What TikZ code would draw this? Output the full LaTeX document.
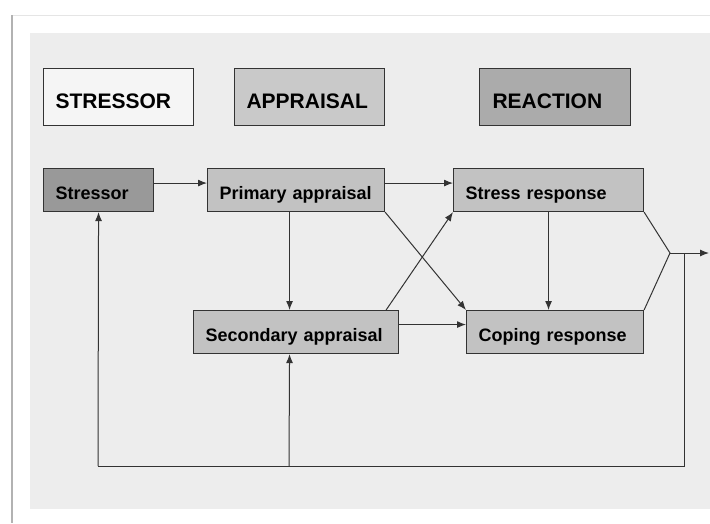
\documentclass[tikz,border=0pt]{standalone}
\usepackage{fontspec}
\setmainfont{Liberation Sans}
\usetikzlibrary{arrows.meta}
\definecolor{panel}{HTML}{EDEDED}
\definecolor{edge}{HTML}{333333}
\begin{document}
\begin{tikzpicture}[x=1pt,y=-1pt,
  box/.style={draw=edge,line width=1.1pt,anchor=north west,inner xsep=12pt,inner ysep=0pt,
    align=left,text height=19pt,text depth=0pt,font=\bfseries\fontsize{18}{20}\selectfont},
  hbox/.style={draw=edge,line width=1.1pt,anchor=north west,inner xsep=12pt,inner ysep=0pt,
    align=left,text height=23pt,text depth=0pt,font=\bfseries\fontsize{21}{23}\selectfont},
  arr/.style={draw=edge,line width=1pt,-{Latex[length=9pt,width=7pt]}},
  ln/.style={draw=edge,line width=1pt}]
\useasboundingbox (0,0) rectangle (710,523);
\fill[white] (0,0) rectangle (710,523);
\draw[line width=0.6pt,black!10] (12,15) -- (710,15);
\fill[panel] (30,33) rectangle (710,509);
\draw[line width=1.4pt,black!30] (12,15) -- (12,523);
% header boxes
\node[hbox,fill=black!4,text width=126pt,minimum height=57pt] (hs) at (43,68) {STRESSOR};
\node[hbox,fill=black!21,text width=126pt,minimum height=57pt] (ha) at (234,68) {APPRAISAL};
\node[hbox,fill=black!33,text width=125pt,minimum height=57pt,inner xsep=13pt] (hr) at (479,68) {REACTION};
% process boxes
\node[box,fill=black!40,text width=86pt,minimum height=43pt] (stressor) at (43,168) {Stressor};
\node[box,fill=black!24,text width=153pt,minimum height=43pt] (primary) at (207,168) {Primary appraisal};
\node[box,fill=black!24,text width=181pt,minimum height=43pt] (secondary) at (193,310) {Secondary appraisal};
\node[box,fill=black!24,text width=166pt,minimum height=43pt] (stress) at (453,168) {Stress response};
\node[box,fill=black!24,text width=153pt,minimum height=43pt] (coping) at (466,310) {Coping response};
% connectors
\draw[arr] ([yshift=7pt]stressor.east) -- ([yshift=7pt]stressor.east -| primary.west);
\draw[arr] ([yshift=7pt]primary.east) -- ([yshift=7pt]primary.east -| stress.west);
\draw[arr] ([xshift=-6.5pt]primary.south) -- ([xshift=-6.5pt]primary.south |- secondary.north);
\draw[arr] ([yshift=7.5pt]secondary.east) -- ([yshift=7.5pt]secondary.east -| coping.west);
\draw[arr] (stress.south) -- (stress.south |- coping.north);
\draw[arr] (primary.south east) -- (coping.north west);
\draw[arr] ([xshift=-13pt]secondary.north east) -- (stress.south west);
\coordinate (j) at (670,253);
\coordinate (out) at (709,253);
\coordinate (fb) at (684,253);
\coordinate (fbb) at (684,466);
\coordinate (bl) at (98,466);
\coordinate (bm) at (289,466);
\draw[ln] (stress.south east) -- (j) -- (coping.north east);
\draw[arr] (j) -- (out);
\draw[ln] (fb) -- (fbb) -- (bl);
\draw[arr] (bl) -- (stressor.south);
\draw[arr] (bm) -- ([xshift=-6.5pt]secondary.south);
\end{tikzpicture}
\end{document}
